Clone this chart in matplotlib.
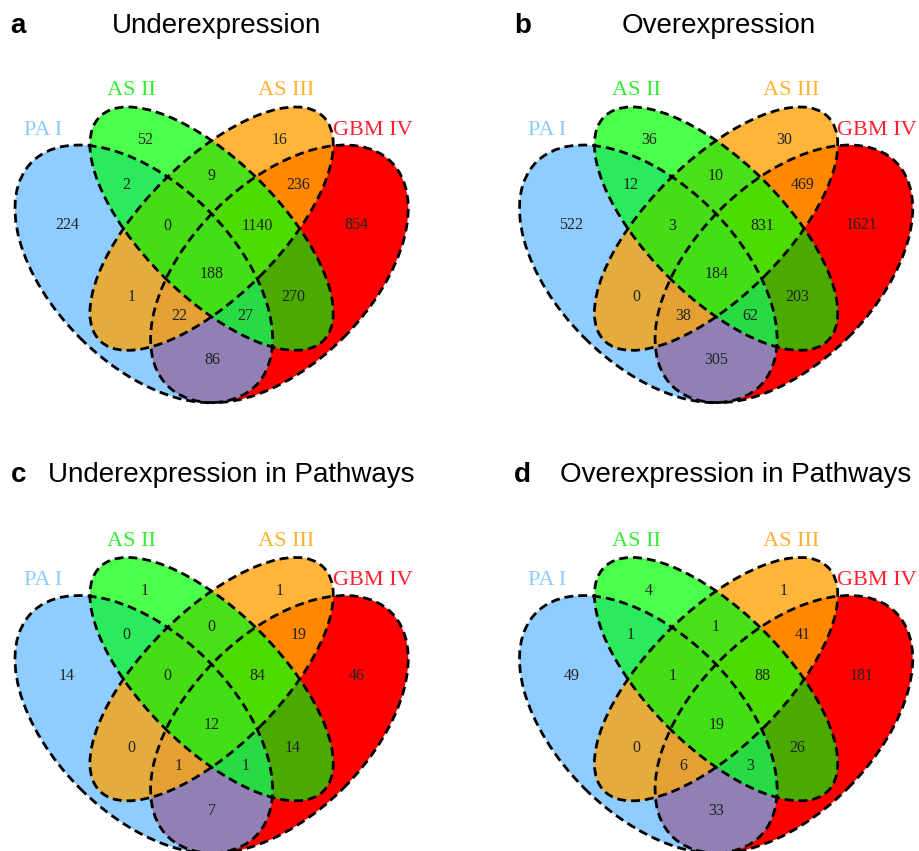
import numpy as np
import matplotlib
matplotlib.use("Agg")
import matplotlib.pyplot as plt
from matplotlib.patches import Ellipse, Polygon

# Sets: A = PA I, B = AS II, C = AS III, D = GBM IV
set_names = ["PA I", "AS II", "AS III", "GBM IV"]
regions = ["A", "B", "C", "D", "AB", "BC", "CD", "ABC", "BCD", "ABCD",
           "AC", "BD", "ACD", "ABD", "AD"]

under = [224, 52, 16, 854, 2, 9, 236, 0, 1140, 188, 1, 270, 22, 27, 86]
over = [522, 36, 30, 1621, 12, 10, 469, 3, 831, 184, 0, 203, 38, 62, 305]
under_path = [14, 1, 1, 46, 0, 0, 19, 0, 84, 12, 0, 14, 1, 1, 7]
over_path = [49, 4, 1, 181, 1, 1, 41, 1, 88, 19, 0, 26, 6, 3, 33]

panel_titles = ["Underexpression", "Overexpression",
                "Underexpression in Pathways", "Overexpression in Pathways"]
panel_letters = ["a", "b", "c", "d"]
panel_data = [under, over, under_path, over_path]

# ellipse geometry (unit square, like VennDiagram quad layout)
ell = {"A": (0.35, 0.47, 0.35, 0.20, -45),
       "B": (0.50, 0.57, 0.35, 0.15, -45),
       "C": (0.50, 0.57, 0.35, 0.15, 45),
       "D": (0.65, 0.47, 0.35, 0.20, 45)}

# colour of each "exactly these sets" region
reg_col = {"A": "#8FCCFF", "B": "#4DFF4D", "C": "#FFB53B", "D": "#FF0000",
           "AB": "#2BEA5C", "BC": "#48E01A", "CD": "#FF8800",
           "ABC": "#45DD18", "BCD": "#4CDC02", "ABCD": "#42DE16",
           "AC": "#E4AC3C", "BD": "#4BAA00", "ACD": "#E4A032",
           "ABD": "#28DA44", "AD": "#9180B4"}

# label positions in unit coords
lab_pos = {"A": (0.18, 0.577), "B": (0.352, 0.766), "C": (0.65, 0.766),
           "D": (0.821, 0.577), "AB": (0.311, 0.667), "BC": (0.5, 0.686),
           "CD": (0.692, 0.667), "ABC": (0.403, 0.576), "BCD": (0.602, 0.576),
           "ABCD": (0.501, 0.469), "AC": (0.323, 0.418), "BD": (0.68, 0.418),
           "ACD": (0.428, 0.377), "ABD": (0.575, 0.377), "AD": (0.501, 0.279)}
name_pos = [(0.127, 0.788), (0.323, 0.875), (0.665, 0.875), (0.856, 0.7875)]
name_col = ["#8CCBFF", "#33EE33", "#FFB030", "#FF2030"]


def ellipse_pts(cx, cy, a, b, ang, n=240):
    t = np.linspace(0, 2*np.pi, n, endpoint=False)
    r = np.deg2rad(ang)
    x = cx + a*np.cos(t)*np.cos(r) - b*np.sin(t)*np.sin(r)
    y = cy + a*np.cos(t)*np.sin(r) + b*np.sin(t)*np.cos(r)
    return [tuple(p) for p in np.column_stack([x, y])]


def clip(subject, clipper):
    # Sutherland-Hodgman, clipper convex and counter clockwise
    out = subject
    n = len(clipper)
    for i in range(n):
        x1, y1 = clipper[i]
        x2, y2 = clipper[(i+1) % n]
        inp, out = out, []
        if not inp:
            break
        def side(q):
            return (x2-x1)*(q[1]-y1) - (y2-y1)*(q[0]-x1)
        s = inp[-1]
        for e in inp:
            se, ss = side(e), side(s)
            if se >= 0:
                if ss < 0:
                    k = ss/(ss-se)
                    out.append((s[0]+k*(e[0]-s[0]), s[1]+k*(e[1]-s[1])))
                out.append(e)
            elif ss >= 0:
                k = ss/(ss-se)
                out.append((s[0]+k*(e[0]-s[0]), s[1]+k*(e[1]-s[1])))
            s = e
    return out


pts = {k: ellipse_pts(*v) for k, v in ell.items()}
polys = {}
for reg in sorted(regions, key=len):
    p = pts[reg[0]]
    for s in reg[1:]:
        p = clip(p, pts[s])
    polys[reg] = p

W, H = 919, 851
S = 452.0   # pixels per unit
fig = plt.figure(figsize=(W/100, H/100), dpi=100)

origins = [(-14.4, 486.3), (490.1, 486.3), (-14.4, 936.8), (490.1, 936.8)]
x0, x1, y0, y1 = 0.0, 1.0, 0.12, 0.96

for i in range(4):
    ox, oy = origins[i]
    ax = fig.add_axes([(ox + x0*S)/W, 1 - (oy - y0*S)/H, (x1-x0)*S/W, (y1-y0)*S/H])
    ax.set_xlim(x0, x1)
    ax.set_ylim(y0, y1)
    ax.axis("off")
    ax.patch.set_visible(False)

    for reg in sorted(regions, key=len):
        ax.add_patch(Polygon(polys[reg], closed=True, facecolor=reg_col[reg],
                             edgecolor="none", lw=0))
    for k, (cx, cy, a, b, ang) in ell.items():
        ax.add_patch(Ellipse((cx, cy), 2*a, 2*b, angle=ang, fill=False,
                             edgecolor="black", lw=2, linestyle=(0, (3.2, 1.8))))
    for reg, val in zip(regions, panel_data[i]):
        x, y = lab_pos[reg]
        ax.text(x, y, str(val), ha="center", va="center", fontsize=11.5,
                family="Liberation Serif", color="#222222")
    for nm, (x, y), c in zip(set_names, name_pos, name_col):
        ax.text(x, y, nm, ha="center", va="center", fontsize=16,
                family="Liberation Serif", color=c)

# panel letters and titles (pixel positions)
letter_px = [(10, 33), (514, 33), (11, 482), (514, 482)]
title_px = [(112, 33), (622, 33), (48, 482), (560, 482)]
for i in range(4):
    lx, ly = letter_px[i]
    fig.text(lx/W, 1 - ly/H, panel_letters[i], fontsize=20, fontweight="bold",
             family="Liberation Sans", va="baseline", ha="left")
    tx, ty = title_px[i]
    fig.text(tx/W, 1 - ty/H, panel_titles[i], fontsize=20,
             family="Liberation Sans", va="baseline", ha="left")

fig.savefig("out.png", dpi=100)
